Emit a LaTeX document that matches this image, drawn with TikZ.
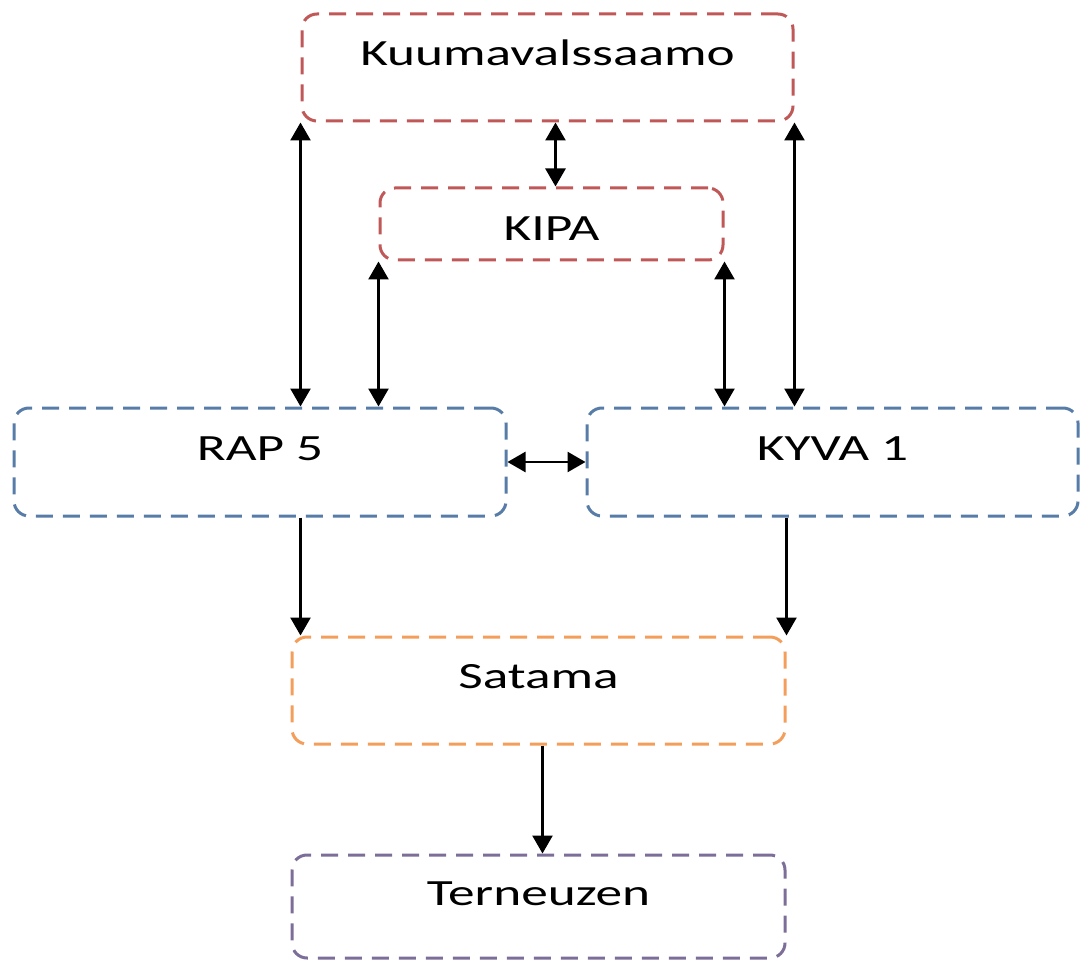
\documentclass[tikz,border=0pt]{standalone}
\usepackage{fontspec}
\setmainfont{Carlito}[FakeStretch=1.44]
\usetikzlibrary{arrows.meta}
\definecolor{boxred}{RGB}{192,88,88}
\definecolor{boxblue}{RGB}{88,124,168}
\definecolor{boxorange}{RGB}{244,158,92}
\definecolor{boxpurple}{RGB}{124,110,152}
\tikzset{
  stage/.style={draw=#1, line width=3pt, dash pattern=on 17pt off 10pt,
    rounded corners=15pt, rectangle, inner sep=0pt},
  stagetext/.style={anchor=base, font=\fontsize{37}{40}\selectfont, text=black, inner sep=0pt},
  flow/.style={line width=2.6pt, -{Triangle[length=18pt,width=20pt]}},
  twoway/.style={line width=2.6pt, {Triangle[length=18pt,width=20pt]}-{Triangle[length=18pt,width=20pt]}}
}
\begin{document}
\begin{tikzpicture}[x=1pt,y=-1pt]
\useasboundingbox (0,0) rectangle (1080,960);
% boxes
\node[stage=boxred, minimum width=491pt, minimum height=107pt] (kuuma) at (547.5,67.5) {};
\node[stage=boxred, minimum width=343pt, minimum height=72pt] (kipa) at (551.5,224) {};
\node[stage=boxblue, minimum width=492pt, minimum height=108pt] (rap) at (260,462) {};
\node[stage=boxblue, minimum width=491pt, minimum height=108pt] (kyva) at (832.5,462) {};
\node[stage=boxorange, minimum width=493pt, minimum height=107pt] (satama) at (538.5,690.5) {};
\node[stage=boxpurple, minimum width=493pt, minimum height=103pt] (tern) at (538.5,906.5) {};
% labels
\node[stagetext] (kuumat) at ([yshift=-53pt]kuuma.north) {Kuumavalssaamo};
\node[stagetext] (kipat) at ([yshift=-54pt]kipa.north) {KIPA};
\node[stagetext] (rapt) at ([yshift=-54pt]rap.north) {RAP 5};
\node[stagetext] (kyvat) at ([yshift=-54pt]kyva.north) {KYVA 1};
\node[stagetext] (satamat) at ([yshift=-53pt]satama.north) {Satama};
\node[stagetext] (ternt) at ([yshift=-52pt]tern.north) {Terneuzen};
% connectors
\draw[twoway] (kuuma.south west) -- (kuuma.south west |- rap.north);
\draw[twoway] (kuuma.south east) -- (kuuma.south east |- kyva.north);
\draw[twoway] ([xshift=8pt]kuuma.south) -- ([xshift=8pt]kuuma.south |- kipa.north);
\draw[twoway] (kipa.south west) -- (kipa.south west |- rap.north);
\draw[twoway] (kipa.south east) -- (kipa.south east |- kyva.north);
\draw[twoway] (rap.east) -- (kyva.west);
\draw[flow] (rap.south -| kuuma.west) -- (satama.north -| kuuma.west);
\draw[flow] (kyva.south -| satama.east) -- (satama.north east);
\draw[flow] ([xshift=4pt]satama.south) -- ([xshift=4pt]tern.north);
\end{tikzpicture}
\end{document}
